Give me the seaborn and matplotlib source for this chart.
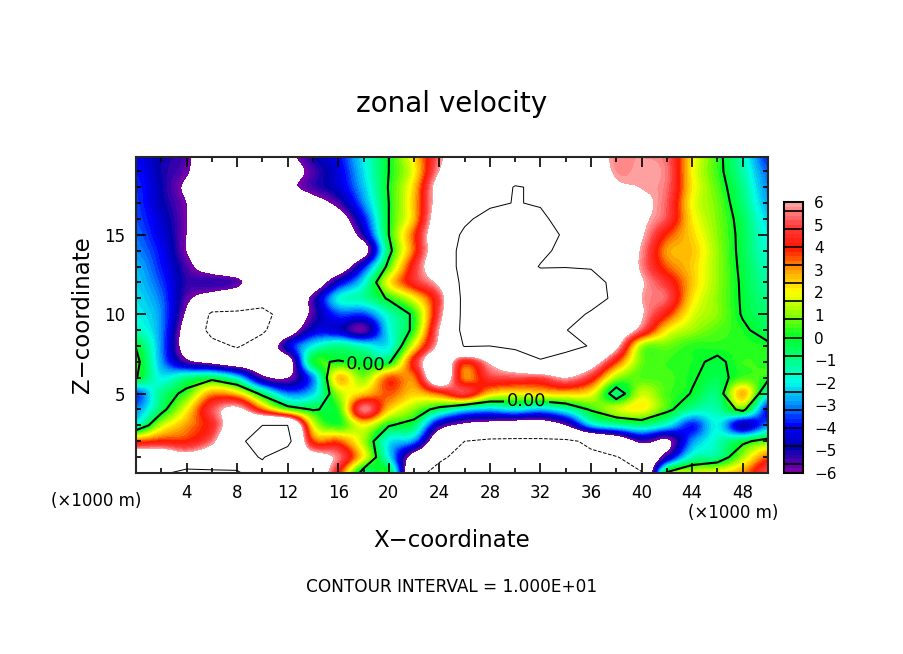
import numpy as np
import seaborn as sns
import matplotlib
matplotlib.use('Agg')
import matplotlib.pyplot as plt
from matplotlib.colors import BoundaryNorm
from matplotlib.ticker import MultipleLocator

# zonal velocity, one list per x position, top (z=20) to bottom (z=0)
x_km = np.arange(0, 51, 2)
z_km = np.arange(20, -1, -1)

u_x00 = [-4.0, -3.8, -3.6, -3.5, -3.4, -3.2, -3, -2.6, -2.4, -2.2, -2, -1.5, -0.1, 0.5, 0.1, -3.5, -3, -1.5, 3.5, 8, 9]
u_x02 = [-5, -5, -4.9, -4.8, -4.5, -4.3, -4, -3.8, -3.5, -3.2, -3, -3, -3, -2.8, -2, -1, -0.5, 1.5, 4, 8, 9.5]
u_x04 = [-5.6, -5.8, -6.3, -6, -6, -6, -6, -5.5, -5.2, -5.6, -6.3, -7, -7, -5.5, -1, 0.5, 2, 3, 4, 7, 11]
u_x06 = [-8, -8, -8, -8, -8, -8, -8, -7, -5.2, -7, -10.5, -11, -9, -6.5, -0.5, 3, 5, 4.5, 5.5, 8, 10.5]
u_x08 = [-8, -8, -8, -8, -8, -8, -8, -8, -5.6, -8, -10.5, -10.5, -10.3, -7.5, -2, 2.5, 6.5, 8, 9.5, 9, 10.2]
u_x10 = [-8, -8, -8, -8, -8, -8, -8, -8, -8, -8.5, -11, -10.5, -8.5, -7.5, -5.5, -0.5, 3.5, 10, 11, 10.2, 9]
u_x12 = [-6.5, -7, -6.5, -8, -9, -9, -9, -9, -8, -8.5, -8.5, -7.5, -4.5, -7, -6, -3, 0.8, 10, 11, 8, 7]
u_x14 = [-5, -5.5, -5.4, -6.8, -8, -9, -9, -8, -7.5, -5.5, -5.5, -4.5, -2, -0.2, -3, -2.3, -0.1, 2, 3.8, 7, 8]
u_x16 = [-4, -4.3, -4.5, -5.5, -7, -8, -9, -7.5, -4.5, -2, -3.5, -4.5, -1, 0.1, 2.5, 1.2, 0.3, 0.3, 3.5, 5.5, 4.2]
u_x18 = [-2, -2.2, -2.5, -3, -4, -5, -7, -4, -2, -1.3, -3.5, -5.7, -1.7, -0.2, 1, 2.5, 5.5, 2, 1.3, 2, -0.8]
u_x20 = [0, 0, 0.1, 0, 0, 0, -0.5, 0.5, 2, 0.2, -1.5, -2, -2, -0.3, 3.5, 3.5, 2.5, 0.1, -2, -2, 0]
u_x22 = [2.3, 2, 2.5, 2.7, 2.7, 3.6, 3.5, 4.5, 4.5, 2, 0.3, 0.4, 2, 4.3, 3.3, 2.5, 1, -0.6, -3, -7, -9]
u_x24 = [5.5, 6, 7, 7, 7.5, 8, 8, 8, 6.5, 5, 5.2, 6, 6.5, 8, 8, 3.5, -0.6, -5, -8, -9.5, -11]
u_x26 = [8, 8.5, 9, 9, 9.5, 10.5, 11, 11, 11, 11, 11, 11, 10.2, 4.2, 3.2, 4.8, -2, -6.5, -10, -11, -11]
u_x28 = [8.5, 9, 9, 9.5, 11, 12, 12, 12, 12, 12, 12, 11, 10, 6.3, 4.8, 2.5, -2.5, -7, -10.5, -11, -11]
u_x30 = [8.5, 9, 10.1, 10.1, 11, 12, 12, 12, 12, 12, 12, 11.5, 10.6, 8, 5, 2, -2, -7.5, -10.5, -11.5, -11]
u_x32 = [8.5, 9, 9.8, 9.8, 10.5, 11.5, 10.8, 9.8, 12, 12, 12, 12, 11, 9.8, 5, 2.3, -2.5, -7.5, -10.5, -11, -11]
u_x34 = [8.5, 9, 9, 9, 9, 9.5, 9, 9.9, 11.5, 11.5, 11, 10.1, 11, 8.5, 6, 2.5, -1.5, -6, -10.5, -11, -10.5]
u_x36 = [7, 7.5, 8, 8, 8, 7.5, 8, 9.8, 11, 11, 9.7, 8.5, 9.8, 7.2, 4.5, 2, 0.2, -2.5, -9.5, -10.5, -10.5]
u_x38 = [5.7, 5.8, 6.4, 8, 8, 8, 8, 8.5, 9.3, 9.5, 9.8, 8, 6.5, 3.8, 1.2, -0.8, 1.5, -1.5, -8, -10.1, -10.5]
u_x40 = [5.8, 5.9, 5.95, 6.5, 6.4, 6.2, 5.8, 5.7, 6.2, 6, 6.2, 5.2, 1.3, 0.8, 0.6, 1.5, 2, -1, -5.5, -9, -10.1]
u_x42 = [5.3, 5.5, 5.4, 5.2, 5, 3.8, 3, 3.5, 4.6, 5.2, 4, 2.2, 0.8, 0.4, 0.5, 0.5, 0.4, -2, -6.3, -5, 0.3]
u_x44 = [2.2, 2.1, 2.2, 2, 2.2, 2.4, 2.6, 2.5, 2.6, 2.3, 1.8, 1.2, 0.3, 0.2, 0.1, -0.05, -1.2, -3.8, -3, -1.5, 1.5]
u_x46 = [0.4, 0.4, 0.6, 0.8, 0.9, 1, 1.1, 1.1, 1.1, 1, 1, 0.6, 0.3, -0.2, -0.4, -0.8, -1.3, -2, -1.5, -1, 2]
u_x48 = [-1.5, -1.3, -1, -0.8, -0.5, -0.4, -0.4, -0.3, -0.2, -0.15, -0.1, 0.2, 0.3, 0.4, 0.5, 2.7, 0.5, -4.8, -0.3, 1.2, 3]
u_x50 = [-3.8, -3.3, -3, -2.7, -2.3, -2, -1.8, -1.5, -1.3, -1, -0.7, -0.5, 0.2, 0.3, 0.3, -1.5, -4, -3, 0.6, 3.5, 5.2]

u_columns = [u_x00, u_x02, u_x04, u_x06, u_x08, u_x10, u_x12, u_x14, u_x16, u_x18, u_x20, u_x22, u_x24,
             u_x26, u_x28, u_x30, u_x32, u_x34, u_x36, u_x38, u_x40, u_x42, u_x44, u_x46, u_x48, u_x50]
u = np.array(u_columns).T

# colours at -6, -5, ... 6
scale_colors = ['#7800aa', '#0000b0', '#0000ff', '#0096ff', '#00ffe6', '#00ff82', '#00ff28',
                '#8cff00', '#ffff00', '#ffa000', '#ff1400', '#ff3c3c', '#ffa0a0']
fill_levels = np.arange(-6, 6.01, 0.2)
bar_breaks = np.arange(-5.6, 5.7, 0.8)
x_ticks = np.arange(4, 49, 4)
z_ticks = [5, 10, 15]
label_spots = [(18.2, 7.0), (30.9, 4.4)]

sns.set_style('ticks', {'xtick.direction': 'in', 'ytick.direction': 'in', 'text.color': 'black',
                        'axes.labelcolor': 'black', 'xtick.color': 'black', 'ytick.color': 'black'})
plt.rcParams['font.family'] = ['DejaVu Sans']
cmap = sns.blend_palette(scale_colors, n_colors=60, as_cmap=True).with_extremes(under='white', over='white')
norm = BoundaryNorm(fill_levels, cmap.N)

fig = plt.figure(figsize=(9.04, 6.54), dpi=100)
ax = fig.add_axes([136 / 904, 1 - 473 / 654, 632 / 904, 316 / 654])
cax = fig.add_axes([784 / 904, 1 - 473 / 654, 19 / 904, 271 / 654])

# imshow smooths the field between the read values, the bands stay sharp
filled = ax.imshow(u, cmap=cmap, norm=norm, aspect='auto', interpolation='catrom', interpolation_stage='data',
                   extent=[-1, 51, -0.5, 20.5], origin='upper')
ax.contour(x_km, z_km, u, levels=[-10, 10], colors='black', linewidths=0.7)
zero_line = ax.contour(x_km, z_km, u, levels=[0], colors='black', linewidths=1.5)
ax.clabel(zero_line, fmt='%.2f', fontsize=13, manual=label_spots, inline=True, inline_spacing=2)

ax.set_xlim(0, 50)
ax.set_ylim(0, 19.9)
ax.set_xticks(x_ticks)
ax.set_yticks(z_ticks)
ax.xaxis.set_minor_locator(MultipleLocator(2))
ax.yaxis.set_minor_locator(MultipleLocator(1))
ax.tick_params(which='both', top=True, right=True, direction='in', color='black', width=1.2)
ax.tick_params(which='major', length=7, labelsize=12, pad=8)
ax.tick_params(which='minor', length=3.5)
for spine in ax.spines.values():
    spine.set_linewidth(1.5)

ax.set_xlabel('X\u2212coordinate', fontsize=16.5, labelpad=0)
ax.set_ylabel('Z\u2212coordinate', fontsize=16.5, labelpad=0)
ax.xaxis.set_label_coords(0.5, (473 - 529) / 316, transform=ax.transAxes)
ax.yaxis.set_label_coords((94 - 136) / 632, 0.5, transform=ax.transAxes)

bar = fig.colorbar(filled, cax=cax, ticks=np.arange(-6, 7, 1), spacing='proportional')
cax.hlines(bar_breaks, 0, 1, transform=cax.get_yaxis_transform(), colors='black', linewidth=1.2)
cax.tick_params(length=0, labelsize=11, pad=8)
bar.outline.set_linewidth(1.5)
bar.outline.set_edgecolor('black')

fig.text(452 / 904, 1 - 104 / 654, 'zonal velocity', fontsize=20, ha='center', va='center')
fig.text(96 / 904, 1 - 501 / 654, '(\u00d71000 m)', fontsize=12, ha='center', va='center')
fig.text(733 / 904, 1 - 513 / 654, '(\u00d71000 m)', fontsize=12, ha='center', va='center')
fig.text(452 / 904, 1 - 587 / 654, 'CONTOUR INTERVAL = 1.000E+01', fontsize=12.2, ha='center', va='center')

fig.savefig('out.png', dpi=100)
